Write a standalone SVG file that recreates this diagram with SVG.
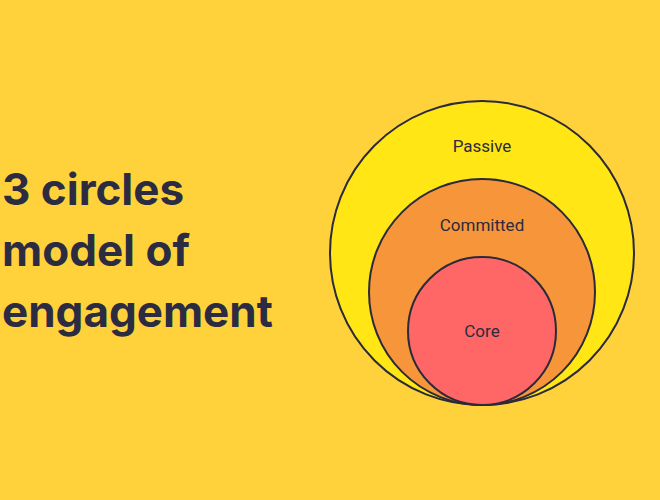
<svg xmlns="http://www.w3.org/2000/svg" width="660" height="500" viewBox="0 0 660 500">
<style>
.c{stroke:#2a2a3a;stroke-width:2}
.l{font-family:Roboto,"Liberation Sans",sans-serif;font-size:17px;fill:#2b2b3f;text-anchor:middle}
.t{font-family:Inter,"Liberation Sans",sans-serif;font-weight:700;font-size:44px;fill:#2b2c42}
</style>
<rect width="660" height="500" fill="#ffd23c"/>
<g id="title"><text class="t" x="2" y="205">3 circles</text><text class="t" x="2" y="266">model of</text><text class="t" x="2" y="327">engagement</text></g>
<g id="passive"><circle class="c" cx="482" cy="253" r="152" fill="#ffe614"/><text class="l" x="482" y="152">Passive</text></g>
<g id="committed"><circle class="c" cx="482" cy="292" r="113" fill="#f7953a"/><text class="l" x="482" y="231">Committed</text></g>
<g id="core"><circle class="c" cx="482" cy="331" r="74" fill="#ff6666"/><text class="l" x="482" y="337">Core</text></g>
</svg>
